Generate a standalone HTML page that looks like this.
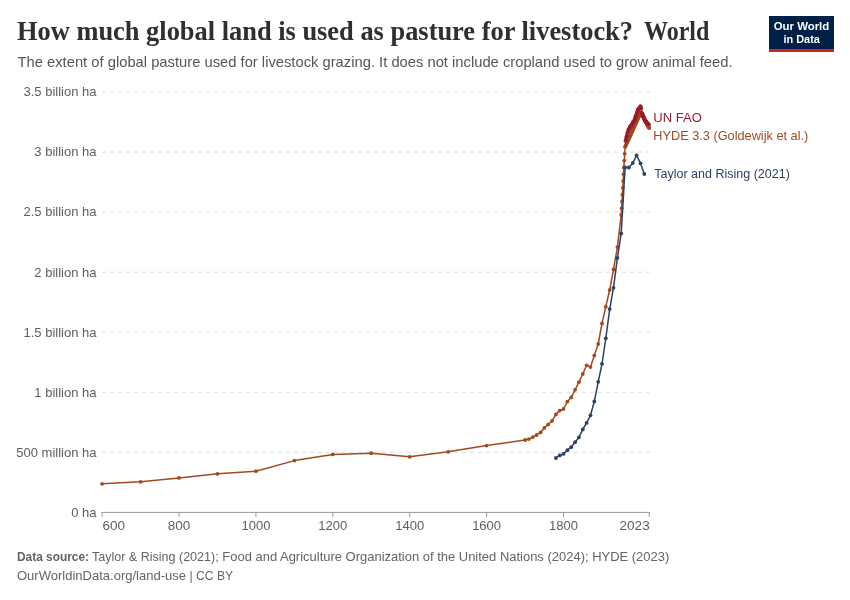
<!DOCTYPE html>
<html lang="en"><head><meta charset="utf-8"><title>How much global land is used as pasture for livestock?</title>
<style>
html,body{margin:0;padding:0;background:#fff;}
body{width:850px;height:600px;overflow:hidden;}
svg{display:block;}
text{white-space:pre;}
</style></head><body>
<svg width="850" height="600" viewBox="0 0 850 600">
<rect width="850" height="600" fill="#fff"/>
<text x="17" y="40.1" font-family="Liberation Serif, Times New Roman, serif" font-weight="700" font-size="27.5" fill="#2f2f2f" lengthAdjust="spacingAndGlyphs" textLength="616">How much global land is used as pasture for livestock?</text>
<text x="644" y="40.1" font-family="Liberation Serif, Times New Roman, serif" font-weight="700" font-size="27.5" fill="#2f2f2f" lengthAdjust="spacingAndGlyphs" textLength="65.3">World</text>
<text x="17.5" y="66.5" font-family="Liberation Sans, Arial, sans-serif" font-size="15" fill="#555" textLength="715" lengthAdjust="spacingAndGlyphs">The extent of global pasture used for livestock grazing. It does not include cropland used to grow animal feed.</text>
<rect x="769" y="16" width="65" height="36" fill="#002147"/><rect x="769" y="49" width="65" height="3" fill="#ce261e"/>
<text x="801.5" y="30.2" font-family="Liberation Sans, Arial, sans-serif" font-weight="700" font-size="11" fill="#fff" text-anchor="middle" textLength="55.5" lengthAdjust="spacingAndGlyphs">Our World</text>
<text x="801.7" y="42.5" font-family="Liberation Sans, Arial, sans-serif" font-weight="700" font-size="11" fill="#fff" text-anchor="middle" textLength="36.5" lengthAdjust="spacingAndGlyphs">in Data</text>
<text x="96.5" y="516.7" font-family="Liberation Sans, Arial, sans-serif" font-size="13" fill="#5e5e5e" text-anchor="end">0 ha</text>
<line x1="102" y1="452.3" x2="649.5" y2="452.3" stroke="#ddd" stroke-width="1" stroke-dasharray="4,4"/>
<text x="96.5" y="456.6" font-family="Liberation Sans, Arial, sans-serif" font-size="13" fill="#5e5e5e" text-anchor="end">500 million ha</text>
<line x1="102" y1="392.3" x2="649.5" y2="392.3" stroke="#ddd" stroke-width="1" stroke-dasharray="4,4"/>
<text x="96.5" y="396.6" font-family="Liberation Sans, Arial, sans-serif" font-size="13" fill="#5e5e5e" text-anchor="end">1 billion ha</text>
<line x1="102" y1="332.2" x2="649.5" y2="332.2" stroke="#ddd" stroke-width="1" stroke-dasharray="4,4"/>
<text x="96.5" y="336.5" font-family="Liberation Sans, Arial, sans-serif" font-size="13" fill="#5e5e5e" text-anchor="end">1.5 billion ha</text>
<line x1="102" y1="272.2" x2="649.5" y2="272.2" stroke="#ddd" stroke-width="1" stroke-dasharray="4,4"/>
<text x="96.5" y="276.5" font-family="Liberation Sans, Arial, sans-serif" font-size="13" fill="#5e5e5e" text-anchor="end">2 billion ha</text>
<line x1="102" y1="212.1" x2="649.5" y2="212.1" stroke="#ddd" stroke-width="1" stroke-dasharray="4,4"/>
<text x="96.5" y="216.4" font-family="Liberation Sans, Arial, sans-serif" font-size="13" fill="#5e5e5e" text-anchor="end">2.5 billion ha</text>
<line x1="102" y1="152.1" x2="649.5" y2="152.1" stroke="#ddd" stroke-width="1" stroke-dasharray="4,4"/>
<text x="96.5" y="156.4" font-family="Liberation Sans, Arial, sans-serif" font-size="13" fill="#5e5e5e" text-anchor="end">3 billion ha</text>
<line x1="102" y1="92.0" x2="649.5" y2="92.0" stroke="#ddd" stroke-width="1" stroke-dasharray="4,4"/>
<text x="96.5" y="96.3" font-family="Liberation Sans, Arial, sans-serif" font-size="13" fill="#5e5e5e" text-anchor="end">3.5 billion ha</text>
<line x1="101.5" y1="512.4" x2="649.9" y2="512.4" stroke="#999" stroke-width="1"/>
<line x1="102.1" y1="512.4" x2="102.1" y2="517" stroke="#999" stroke-width="1"/>
<text x="102.4" y="530.1" font-family="Liberation Sans, Arial, sans-serif" font-size="13" fill="#5e5e5e" text-anchor="start" textLength="22.6" lengthAdjust="spacingAndGlyphs">600</text>
<line x1="179.0" y1="512.4" x2="179.0" y2="517" stroke="#999" stroke-width="1"/>
<text x="179.0" y="530.1" font-family="Liberation Sans, Arial, sans-serif" font-size="13" fill="#5e5e5e" text-anchor="middle" textLength="22.6" lengthAdjust="spacingAndGlyphs">800</text>
<line x1="255.9" y1="512.4" x2="255.9" y2="517" stroke="#999" stroke-width="1"/>
<text x="255.9" y="530.1" font-family="Liberation Sans, Arial, sans-serif" font-size="13" fill="#5e5e5e" text-anchor="middle">1000</text>
<line x1="332.8" y1="512.4" x2="332.8" y2="517" stroke="#999" stroke-width="1"/>
<text x="332.8" y="530.1" font-family="Liberation Sans, Arial, sans-serif" font-size="13" fill="#5e5e5e" text-anchor="middle">1200</text>
<line x1="409.7" y1="512.4" x2="409.7" y2="517" stroke="#999" stroke-width="1"/>
<text x="409.7" y="530.1" font-family="Liberation Sans, Arial, sans-serif" font-size="13" fill="#5e5e5e" text-anchor="middle">1400</text>
<line x1="486.6" y1="512.4" x2="486.6" y2="517" stroke="#999" stroke-width="1"/>
<text x="486.6" y="530.1" font-family="Liberation Sans, Arial, sans-serif" font-size="13" fill="#5e5e5e" text-anchor="middle">1600</text>
<line x1="563.5" y1="512.4" x2="563.5" y2="517" stroke="#999" stroke-width="1"/>
<text x="563.5" y="530.1" font-family="Liberation Sans, Arial, sans-serif" font-size="13" fill="#5e5e5e" text-anchor="middle">1800</text>
<line x1="649.3" y1="512.4" x2="649.3" y2="517" stroke="#999" stroke-width="1"/>
<text x="649.7" y="530.1" font-family="Liberation Sans, Arial, sans-serif" font-size="13" fill="#5e5e5e" text-anchor="end" textLength="30.2" lengthAdjust="spacingAndGlyphs">2023</text>
<path d="M102.1,483.8 L140.6,481.8 L179.0,477.9 L217.5,473.8 L255.9,471.2 L294.4,460.6 L332.8,454.4 L371.3,453.2 L409.7,456.8 L448.2,451.8 L486.6,445.6 L525.1,440.0 L528.9,439.1 L532.8,437.1 L536.6,435.0 L540.5,432.4 L544.3,427.9 L548.2,424.5 L552.0,420.9 L555.9,414.4 L559.7,410.6 L563.5,409.0 L567.4,401.6 L571.2,397.4 L575.1,389.8 L578.9,382.2 L582.8,374.0 L586.6,365.3 L590.5,367.1 L594.3,355.6 L598.2,344.0 L602.0,323.4 L605.8,306.7 L609.7,290.0 L613.5,269.4 L617.4,247.1 L621.2,215.0 L621.6,208.2 L622.0,201.4 L622.4,194.6 L622.8,187.8 L623.2,181.0 L623.5,174.2 L623.9,167.4 L624.3,160.6 L624.7,153.8 L625.1,147.0 L625.5,146.2 L625.8,145.3 L626.2,144.5 L626.6,143.6 L627.0,142.8 L627.4,141.9 L627.8,141.1 L628.2,140.2 L628.5,139.4 L628.9,138.6 L629.3,137.7 L629.7,136.9 L630.1,136.0 L630.5,135.2 L630.8,134.3 L631.2,133.5 L631.6,132.6 L632.0,131.8 L632.4,130.9 L632.8,130.1 L633.1,129.3 L633.5,128.4 L633.9,127.6 L634.3,126.7 L634.7,125.9 L635.1,125.0 L635.5,124.2 L635.8,123.3 L636.2,122.5 L636.6,121.7 L637.0,120.8 L637.4,120.0 L637.8,119.1 L638.1,118.3 L638.5,117.4 L638.9,116.6 L639.3,115.7 L639.7,114.9 L640.1,114.0 L640.5,113.2 L640.8,112.8 L641.2,112.3 L641.6,112.9 L642.0,113.4 L642.4,114.0 L642.8,114.8 L643.1,115.6 L643.5,116.4 L643.9,117.2 L644.3,118.0 L644.7,118.9 L645.1,119.8 L645.5,120.7 L645.8,121.6 L646.2,122.5 L646.6,123.3 L647.0,124.1 L647.4,124.9 L647.8,125.7 L648.1,126.5 L648.5,127.0 L648.9,127.5 L649.3,128.0" fill="none" stroke="#a04a1e" stroke-width="1.5" stroke-linejoin="round" stroke-linecap="round"/>
<g fill="#a04a1e"><circle cx="102.1" cy="483.8" r="1.9"/><circle cx="140.6" cy="481.8" r="1.9"/><circle cx="179.0" cy="477.9" r="1.9"/><circle cx="217.5" cy="473.8" r="1.9"/><circle cx="255.9" cy="471.2" r="1.9"/><circle cx="294.4" cy="460.6" r="1.9"/><circle cx="332.8" cy="454.4" r="1.9"/><circle cx="371.3" cy="453.2" r="1.9"/><circle cx="409.7" cy="456.8" r="1.9"/><circle cx="448.2" cy="451.8" r="1.9"/><circle cx="486.6" cy="445.6" r="1.9"/><circle cx="525.1" cy="440.0" r="1.9"/><circle cx="528.9" cy="439.1" r="1.9"/><circle cx="532.8" cy="437.1" r="1.9"/><circle cx="536.6" cy="435.0" r="1.9"/><circle cx="540.5" cy="432.4" r="1.9"/><circle cx="544.3" cy="427.9" r="1.9"/><circle cx="548.2" cy="424.5" r="1.9"/><circle cx="552.0" cy="420.9" r="1.9"/><circle cx="555.9" cy="414.4" r="1.9"/><circle cx="559.7" cy="410.6" r="1.9"/><circle cx="563.5" cy="409.0" r="1.9"/><circle cx="567.4" cy="401.6" r="1.9"/><circle cx="571.2" cy="397.4" r="1.9"/><circle cx="575.1" cy="389.8" r="1.9"/><circle cx="578.9" cy="382.2" r="1.9"/><circle cx="582.8" cy="374.0" r="1.9"/><circle cx="586.6" cy="365.3" r="1.9"/><circle cx="590.5" cy="367.1" r="1.9"/><circle cx="594.3" cy="355.6" r="1.9"/><circle cx="598.2" cy="344.0" r="1.9"/><circle cx="602.0" cy="323.4" r="1.9"/><circle cx="605.8" cy="306.7" r="1.9"/><circle cx="609.7" cy="290.0" r="1.9"/><circle cx="613.5" cy="269.4" r="1.9"/><circle cx="617.4" cy="247.1" r="1.9"/><circle cx="621.2" cy="215.0" r="1.9"/><circle cx="621.6" cy="208.2" r="1.9"/><circle cx="622.0" cy="201.4" r="1.9"/><circle cx="622.4" cy="194.6" r="1.9"/><circle cx="622.8" cy="187.8" r="1.9"/><circle cx="623.2" cy="181.0" r="1.9"/><circle cx="623.5" cy="174.2" r="1.9"/><circle cx="623.9" cy="167.4" r="1.9"/><circle cx="624.3" cy="160.6" r="1.9"/><circle cx="624.7" cy="153.8" r="1.9"/><circle cx="625.1" cy="147.0" r="1.9"/><circle cx="625.5" cy="146.2" r="1.9"/><circle cx="625.8" cy="145.3" r="1.9"/><circle cx="626.2" cy="144.5" r="1.9"/><circle cx="626.6" cy="143.6" r="1.9"/><circle cx="627.0" cy="142.8" r="1.9"/><circle cx="627.4" cy="141.9" r="1.9"/><circle cx="627.8" cy="141.1" r="1.9"/><circle cx="628.2" cy="140.2" r="1.9"/><circle cx="628.5" cy="139.4" r="1.9"/><circle cx="628.9" cy="138.6" r="1.9"/><circle cx="629.3" cy="137.7" r="1.9"/><circle cx="629.7" cy="136.9" r="1.9"/><circle cx="630.1" cy="136.0" r="1.9"/><circle cx="630.5" cy="135.2" r="1.9"/><circle cx="630.8" cy="134.3" r="1.9"/><circle cx="631.2" cy="133.5" r="1.9"/><circle cx="631.6" cy="132.6" r="1.9"/><circle cx="632.0" cy="131.8" r="1.9"/><circle cx="632.4" cy="130.9" r="1.9"/><circle cx="632.8" cy="130.1" r="1.9"/><circle cx="633.1" cy="129.3" r="1.9"/><circle cx="633.5" cy="128.4" r="1.9"/><circle cx="633.9" cy="127.6" r="1.9"/><circle cx="634.3" cy="126.7" r="1.9"/><circle cx="634.7" cy="125.9" r="1.9"/><circle cx="635.1" cy="125.0" r="1.9"/><circle cx="635.5" cy="124.2" r="1.9"/><circle cx="635.8" cy="123.3" r="1.9"/><circle cx="636.2" cy="122.5" r="1.9"/><circle cx="636.6" cy="121.7" r="1.9"/><circle cx="637.0" cy="120.8" r="1.9"/><circle cx="637.4" cy="120.0" r="1.9"/><circle cx="637.8" cy="119.1" r="1.9"/><circle cx="638.1" cy="118.3" r="1.9"/><circle cx="638.5" cy="117.4" r="1.9"/><circle cx="638.9" cy="116.6" r="1.9"/><circle cx="639.3" cy="115.7" r="1.9"/><circle cx="639.7" cy="114.9" r="1.9"/><circle cx="640.1" cy="114.0" r="1.9"/><circle cx="640.5" cy="113.2" r="1.9"/><circle cx="640.8" cy="112.8" r="1.9"/><circle cx="641.2" cy="112.3" r="1.9"/><circle cx="641.6" cy="112.9" r="1.9"/><circle cx="642.0" cy="113.4" r="1.9"/><circle cx="642.4" cy="114.0" r="1.9"/><circle cx="642.8" cy="114.8" r="1.9"/><circle cx="643.1" cy="115.6" r="1.9"/><circle cx="643.5" cy="116.4" r="1.9"/><circle cx="643.9" cy="117.2" r="1.9"/><circle cx="644.3" cy="118.0" r="1.9"/><circle cx="644.7" cy="118.9" r="1.9"/><circle cx="645.1" cy="119.8" r="1.9"/><circle cx="645.5" cy="120.7" r="1.9"/><circle cx="645.8" cy="121.6" r="1.9"/><circle cx="646.2" cy="122.5" r="1.9"/><circle cx="646.6" cy="123.3" r="1.9"/><circle cx="647.0" cy="124.1" r="1.9"/><circle cx="647.4" cy="124.9" r="1.9"/><circle cx="647.8" cy="125.7" r="1.9"/><circle cx="648.1" cy="126.5" r="1.9"/><circle cx="648.5" cy="127.0" r="1.9"/><circle cx="648.9" cy="127.5" r="1.9"/><circle cx="649.3" cy="128.0" r="1.9"/></g>
<path d="M555.9,458.0 L559.7,455.4 L563.5,453.9 L567.4,450.2 L571.2,447.2 L575.1,442.2 L578.9,437.4 L582.8,429.4 L586.6,422.9 L590.5,415.3 L594.3,401.5 L598.2,381.8 L602.0,363.8 L605.8,338.3 L609.7,309.1 L613.5,287.8 L617.4,257.9 L621.2,233.4 L625.1,167.5 L628.9,167.5 L632.8,163.0 L636.6,155.3 L640.5,163.3 L644.3,174.0" fill="none" stroke="#2c4165" stroke-width="1.5" stroke-linejoin="round" stroke-linecap="round"/>
<g fill="#2c4165"><circle cx="555.9" cy="458.0" r="1.9"/><circle cx="559.7" cy="455.4" r="1.9"/><circle cx="563.5" cy="453.9" r="1.9"/><circle cx="567.4" cy="450.2" r="1.9"/><circle cx="571.2" cy="447.2" r="1.9"/><circle cx="575.1" cy="442.2" r="1.9"/><circle cx="578.9" cy="437.4" r="1.9"/><circle cx="582.8" cy="429.4" r="1.9"/><circle cx="586.6" cy="422.9" r="1.9"/><circle cx="590.5" cy="415.3" r="1.9"/><circle cx="594.3" cy="401.5" r="1.9"/><circle cx="598.2" cy="381.8" r="1.9"/><circle cx="602.0" cy="363.8" r="1.9"/><circle cx="605.8" cy="338.3" r="1.9"/><circle cx="609.7" cy="309.1" r="1.9"/><circle cx="613.5" cy="287.8" r="1.9"/><circle cx="617.4" cy="257.9" r="1.9"/><circle cx="621.2" cy="233.4" r="1.9"/><circle cx="625.1" cy="167.5" r="1.9"/><circle cx="628.9" cy="167.5" r="1.9"/><circle cx="632.8" cy="163.0" r="1.9"/><circle cx="636.6" cy="155.3" r="1.9"/><circle cx="640.5" cy="163.3" r="1.9"/><circle cx="644.3" cy="174.0" r="1.9"/></g>
<path d="M625.5,140.8 L625.8,140.2 L626.2,138.0 L626.6,136.3 L627.0,135.3 L627.4,132.7 L627.8,131.9 L628.2,130.9 L628.5,129.5 L628.9,129.7 L629.3,128.4 L629.7,127.1 L630.1,127.4 L630.5,126.1 L630.8,126.0 L631.2,126.2 L631.6,124.6 L632.0,124.4 L632.4,123.6 L632.8,122.1 L633.1,122.6 L633.5,121.6 L633.9,120.9 L634.3,121.0 L634.7,119.1 L635.1,118.0 L635.5,117.3 L635.8,115.3 L636.2,115.4 L636.6,114.5 L637.0,112.3 L637.4,111.5 L637.8,110.0 L638.1,109.2 L638.5,109.7 L638.9,108.4 L639.3,108.5 L639.7,108.2 L640.1,106.4 L640.5,106.4 L640.8,106.7 L641.2,108.4 L641.6,112.7 L642.0,113.6 L642.4,115.1 L642.8,116.4 L643.1,116.0 L643.5,117.5 L643.9,118.7 L644.3,119.1 L644.7,120.8 L645.1,120.8 L645.5,120.6 L645.8,121.8 L646.2,121.3 L646.6,122.1 L647.0,123.4 L647.4,122.9 L647.8,124.0 L648.1,124.1 L648.5,124.2 L648.9,124.6" fill="none" stroke="#9c1a2d" stroke-width="1.5" stroke-linejoin="round" stroke-linecap="round"/>
<g fill="#9c1a2d"><circle cx="625.5" cy="140.8" r="1.9"/><circle cx="625.8" cy="140.2" r="1.9"/><circle cx="626.2" cy="138.0" r="1.9"/><circle cx="626.6" cy="136.3" r="1.9"/><circle cx="627.0" cy="135.3" r="1.9"/><circle cx="627.4" cy="132.7" r="1.9"/><circle cx="627.8" cy="131.9" r="1.9"/><circle cx="628.2" cy="130.9" r="1.9"/><circle cx="628.5" cy="129.5" r="1.9"/><circle cx="628.9" cy="129.7" r="1.9"/><circle cx="629.3" cy="128.4" r="1.9"/><circle cx="629.7" cy="127.1" r="1.9"/><circle cx="630.1" cy="127.4" r="1.9"/><circle cx="630.5" cy="126.1" r="1.9"/><circle cx="630.8" cy="126.0" r="1.9"/><circle cx="631.2" cy="126.2" r="1.9"/><circle cx="631.6" cy="124.6" r="1.9"/><circle cx="632.0" cy="124.4" r="1.9"/><circle cx="632.4" cy="123.6" r="1.9"/><circle cx="632.8" cy="122.1" r="1.9"/><circle cx="633.1" cy="122.6" r="1.9"/><circle cx="633.5" cy="121.6" r="1.9"/><circle cx="633.9" cy="120.9" r="1.9"/><circle cx="634.3" cy="121.0" r="1.9"/><circle cx="634.7" cy="119.1" r="1.9"/><circle cx="635.1" cy="118.0" r="1.9"/><circle cx="635.5" cy="117.3" r="1.9"/><circle cx="635.8" cy="115.3" r="1.9"/><circle cx="636.2" cy="115.4" r="1.9"/><circle cx="636.6" cy="114.5" r="1.9"/><circle cx="637.0" cy="112.3" r="1.9"/><circle cx="637.4" cy="111.5" r="1.9"/><circle cx="637.8" cy="110.0" r="1.9"/><circle cx="638.1" cy="109.2" r="1.9"/><circle cx="638.5" cy="109.7" r="1.9"/><circle cx="638.9" cy="108.4" r="1.9"/><circle cx="639.3" cy="108.5" r="1.9"/><circle cx="639.7" cy="108.2" r="1.9"/><circle cx="640.1" cy="106.4" r="1.9"/><circle cx="640.5" cy="106.4" r="1.9"/><circle cx="640.8" cy="106.7" r="1.9"/><circle cx="641.2" cy="108.4" r="1.9"/><circle cx="641.6" cy="112.7" r="1.9"/><circle cx="642.0" cy="113.6" r="1.9"/><circle cx="642.4" cy="115.1" r="1.9"/><circle cx="642.8" cy="116.4" r="1.9"/><circle cx="643.1" cy="116.0" r="1.9"/><circle cx="643.5" cy="117.5" r="1.9"/><circle cx="643.9" cy="118.7" r="1.9"/><circle cx="644.3" cy="119.1" r="1.9"/><circle cx="644.7" cy="120.8" r="1.9"/><circle cx="645.1" cy="120.8" r="1.9"/><circle cx="645.5" cy="120.6" r="1.9"/><circle cx="645.8" cy="121.8" r="1.9"/><circle cx="646.2" cy="121.3" r="1.9"/><circle cx="646.6" cy="122.1" r="1.9"/><circle cx="647.0" cy="123.4" r="1.9"/><circle cx="647.4" cy="122.9" r="1.9"/><circle cx="647.8" cy="124.0" r="1.9"/><circle cx="648.1" cy="124.1" r="1.9"/><circle cx="648.5" cy="124.2" r="1.9"/><circle cx="648.9" cy="124.6" r="1.9"/></g>
<text x="653.3" y="121.7" font-family="Liberation Sans, Arial, sans-serif" font-size="13" fill="#9c1a2d" textLength="48.6" lengthAdjust="spacingAndGlyphs">UN FAO</text>
<text x="653.3" y="139.8" font-family="Liberation Sans, Arial, sans-serif" font-size="13" fill="#a04a1e" textLength="155" lengthAdjust="spacingAndGlyphs">HYDE 3.3 (Goldewijk et al.)</text>
<text x="654.3" y="178.4" font-family="Liberation Sans, Arial, sans-serif" font-size="13" fill="#2c4165" textLength="135.5" lengthAdjust="spacingAndGlyphs">Taylor and Rising (2021)</text>
<text x="17" y="561.2" font-family="Liberation Sans, Arial, sans-serif" font-size="13" font-weight="700" fill="#646464" textLength="72" lengthAdjust="spacingAndGlyphs">Data source:</text>
<text x="91.9" y="561.2" font-family="Liberation Sans, Arial, sans-serif" font-size="13" fill="#646464" textLength="126.8" lengthAdjust="spacingAndGlyphs">Taylor &amp; Rising (2021);</text>
<text x="222.3" y="561.2" font-family="Liberation Sans, Arial, sans-serif" font-size="13" fill="#646464" textLength="447" lengthAdjust="spacingAndGlyphs">Food and Agriculture Organization of the United Nations (2024); HYDE (2023)</text>
<text x="17" y="580.4" font-family="Liberation Sans, Arial, sans-serif" font-size="13" fill="#646464" textLength="169" lengthAdjust="spacingAndGlyphs">OurWorldinData.org/land-use</text>
<text x="189.6" y="580.4" font-family="Liberation Sans, Arial, sans-serif" font-size="13" fill="#646464" textLength="43.5" lengthAdjust="spacingAndGlyphs">| CC BY</text>
</svg>
</body></html>
